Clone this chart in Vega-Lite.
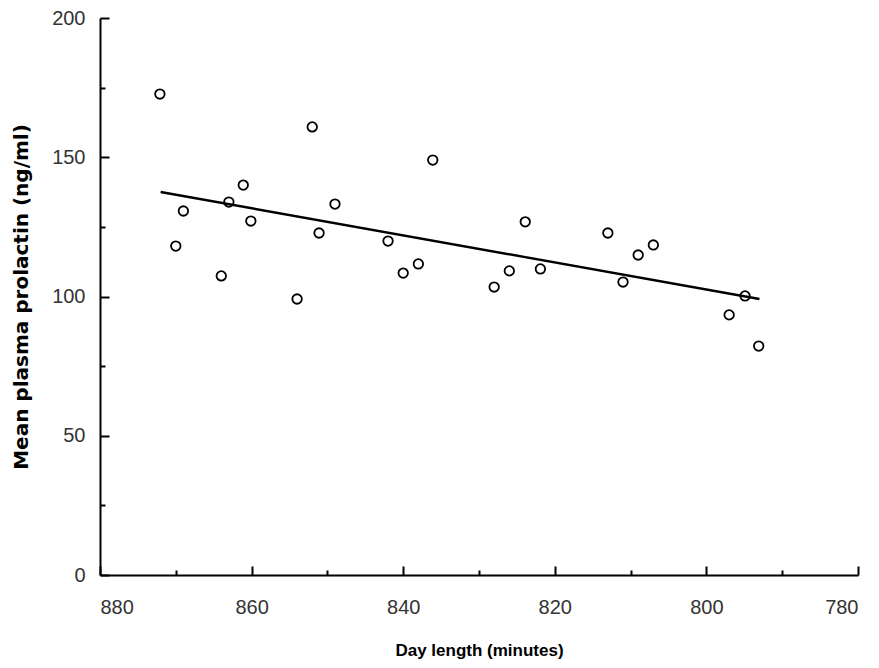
{
  "$schema": "https://vega.github.io/schema/vega-lite/v6.json",
  "autosize": "none",
  "width": 758,
  "height": 557,
  "padding": {"left": 100, "top": 18, "right": 21, "bottom": 93},
  "background": "white",
  "config": {
    "view": {"stroke": null},
    "axis": {
      "grid": false,
      "domainColor": "black",
      "domainWidth": 2,
      "tickColor": "black",
      "tickWidth": 2,
      "labelFont": "Liberation Sans",
      "labelFontSize": 20,
      "labelColor": "#333333",
      "titleFont": "Liberation Sans",
      "titleFontSize": 17,
      "titleFontWeight": "bold",
      "titleColor": "black"
    }
  },
  "datasets": {
    "points": [
      {"day": 872.1, "prl": 172.7},
      {"day": 870.0, "prl": 118.1},
      {"day": 869.0, "prl": 130.7},
      {"day": 864.0, "prl": 107.4},
      {"day": 863.0, "prl": 133.9},
      {"day": 861.1, "prl": 140.0},
      {"day": 860.1, "prl": 127.1},
      {"day": 854.0, "prl": 99.1},
      {"day": 852.0, "prl": 160.9},
      {"day": 851.1, "prl": 122.8},
      {"day": 849.0, "prl": 133.2},
      {"day": 842.0, "prl": 119.9},
      {"day": 840.0, "prl": 108.4},
      {"day": 838.0, "prl": 111.7},
      {"day": 836.1, "prl": 149.0},
      {"day": 828.0, "prl": 103.4},
      {"day": 826.0, "prl": 109.2},
      {"day": 823.9, "prl": 126.8},
      {"day": 821.9, "prl": 109.9},
      {"day": 813.0, "prl": 122.8},
      {"day": 811.0, "prl": 105.2},
      {"day": 809.0, "prl": 114.9},
      {"day": 807.0, "prl": 118.5},
      {"day": 797.0, "prl": 93.4},
      {"day": 794.9, "prl": 100.2},
      {"day": 793.1, "prl": 82.2}
    ],
    "fit": [
      {"day": 872.0, "prl": 137.5},
      {"day": 793.0, "prl": 99.1}
    ]
  },
  "resolve": {"axis": {"x": "independent", "y": "independent"}},
  "layer": [
    {
      "data": {"name": "fit"},
      "mark": {"type": "line", "color": "black", "strokeWidth": 2.5},
      "encoding": {
        "x": {
          "field": "day", "type": "quantitative",
          "scale": {"domain": [880, 780], "nice": false, "zero": false},
          "axis": {
            "orient": "bottom",
            "title": "Day length (minutes)",
            "values": [880, 860, 840, 820, 800, 780],
            "ticks": false,
            "labelPadding": 22,
            "titlePadding": 25
          }
        },
        "y": {
          "field": "prl", "type": "quantitative",
          "scale": {"domain": [0, 200], "nice": false},
          "axis": {
            "orient": "left",
            "title": "Mean plasma prolactin (ng/ml)",
            "titleFont": "DejaVu Sans",
            "titleFontSize": 20,
            "values": [0, 50, 100, 150, 200],
            "ticks": false,
            "labelPadding": 15,
            "titlePadding": 20
          }
        }
      }
    },
    {
      "data": {"name": "points"},
      "mark": {"type": "point", "shape": "circle", "filled": false, "color": "black", "strokeWidth": 1.8, "size": 90, "opacity": 1},
      "encoding": {
        "x": {
          "field": "day", "type": "quantitative",
          "axis": {
            "orient": "bottom",
            "title": null,
            "values": [880, 860, 840, 820, 800, 780],
            "labels": false,
            "domain": false,
            "tickSize": 9,
            "offset": -9
          }
        },
        "y": {
          "field": "prl", "type": "quantitative",
          "axis": {
            "orient": "left",
            "title": null,
            "values": [0, 50, 100, 150, 200],
            "labels": false,
            "domain": false,
            "tickSize": 9,
            "offset": -9
          }
        }
      }
    },
    {
      "data": {"name": "fit"},
      "mark": {"type": "line", "color": "black", "strokeOpacity": 0},
      "encoding": {
        "x": {
          "field": "day", "type": "quantitative",
          "axis": {
            "orient": "bottom",
            "title": null,
            "values": [870, 850, 830, 810, 790],
            "labels": false,
            "domain": false,
            "tickSize": 5,
            "offset": -5
          }
        },
        "y": {
          "field": "prl", "type": "quantitative",
          "axis": {
            "orient": "left",
            "title": null,
            "values": [25, 75, 125, 175],
            "labels": false,
            "domain": false,
            "tickSize": 5,
            "offset": -5
          }
        }
      }
    }
  ]
}
